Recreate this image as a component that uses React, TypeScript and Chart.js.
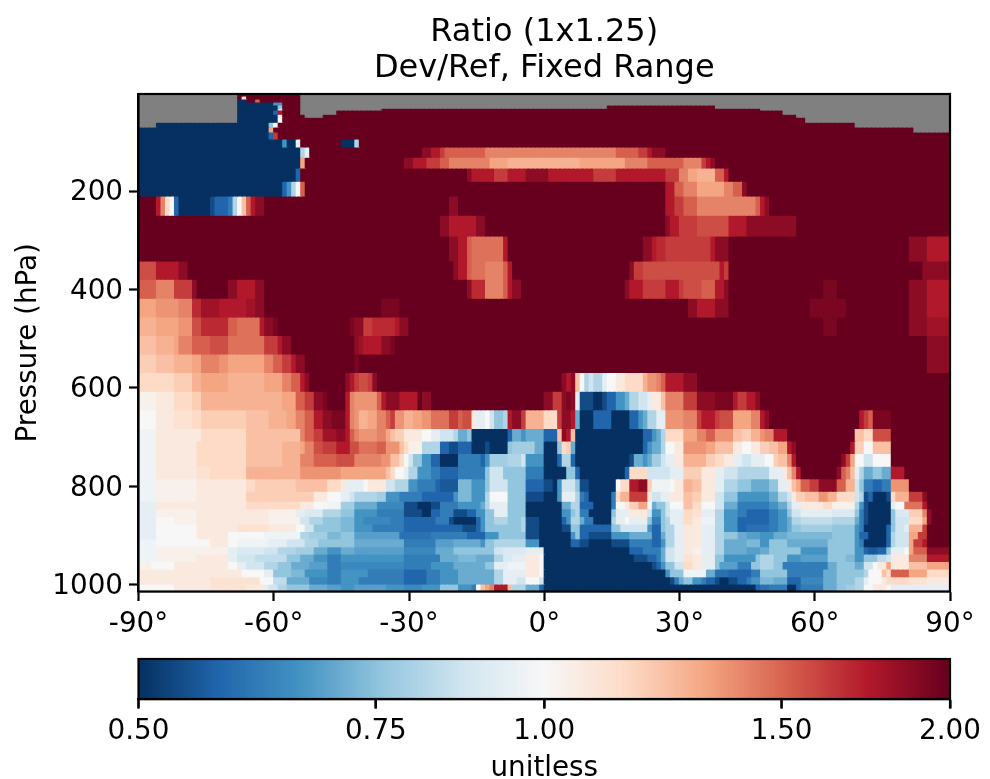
import React, { useEffect, useRef } from "react";
import { Chart, registerables } from "chart.js";

Chart.register(...registerables);

const FONT = "'DejaVu Sans'";

const titleLines = ["Ratio (1x1.25)", "Dev/Ref, Fixed Range"];
const yAxisTitle = "Pressure (hPa)";
const colorbarTitle = "unitless";
const latitudeTicks = [-90, -60, -30, 0, 30, 60, 90];
const pressureTicks = [200, 400, 600, 800, 1000];
const colorbarTicks = [0.5, 0.75, 1, 1.5, 2];

// 47 model levels, top to bottom (hPa)
const pressureEdges = [
  3, 7, 13, 19, 25, 31.5, 35.5, 44, 50, 60, 70, 80, 94.4, 110.6, 131, 153, 180, 210, 249, 291, 342, 379, 417.5, 455.5,
  493, 531, 568.5, 606.5, 644, 682, 707.5, 733, 758.5, 784, 809.5, 830, 845, 860.5, 876, 891, 906, 922, 937, 952, 967.5,
  983, 998, 1013.25,
];

// Ratio steps. Letters in the rows index this: A=0, a=1, B=2, b=3 ... U=40. "." is missing data.
const ratioSteps = [
  0.5, 0.518, 0.536, 0.555, 0.574, 0.595, 0.616, 0.637, 0.66, 0.683, 0.707, 0.732, 0.758, 0.785, 0.812, 0.841, 0.871,
  0.901, 0.933, 0.966, 1.0, 1.035, 1.072, 1.11, 1.149, 1.189, 1.231, 1.275, 1.32, 1.366, 1.414, 1.464, 1.516, 1.569,
  1.625, 1.682, 1.741, 1.803, 1.866, 1.932, 2.0,
];

// Each row: runs of <degrees of latitude><ratio step>, from 90S to 90N.
const stratosphereRows = [
  "22.14U144.",
  "22.1U1M12U144.",
  "22.2A2U1Q9U144.",
  "22.8A2E4U144.",
  "22.9A1G4U68.24U52.",
  "22.9A1I4U18.84U42.",
  "22.8A1C1S4U8.99U37.",
  "22.9A1K5U4.105U34.",
  "22.9A1K116U32.",
  "4.25A1G1K128U21.",
  "29A1O142U8.",
  "29A1C1R149U",
  "32A1E2A1J9U3A1H131U",
  "36A1H1J25U2T2S1R9Q29P5Q2R1S2T1T63U",
  "36A1O22U2T3S3R2Q5P4P4O16n10O5P8Q4P1R1S1T52U",
  "35A1C37U1T5S3R4S5T10S5R7S4S3R2P2O4n2Q1S49U",
  "32A1C1E1H1K1Q80U2S2Q3P6O2P2Q1T45U",
];

const upperTroposphereRows = [
  "4U1S1P1M1K1C7A1B3C1D1H1K1N1Q1S2T41U2T46U2S2R3Q13P1Q1S1T40U",
  "67U2T6S2T40U1T2S4R7q4S11T34U",
  "69U2T2S1Q7p1S30U2T1S2r10R1S3T40U4T5S",
  "4q5S2T59U1T2S1Q3p4P1Q1S26U1T2R17q1S1R43U1T5T",
  "4Q4P4R1T7U2T2S2S2T45U1T3r4P1Q1S2T23U1T3S5R3S1R4q3Q2S1T21U3t16U4T5S",
  "4O5o3P2r4s6S2s2T26U4t64U2T4S3T18U8t14U4T5S",
  "4n5O3o2q6r2Q5p1S2T1t16U1t2T2R5r1S2T92U3t16U4T5s",
  "4N4n1O3P4Q4q8p1R2R1S2T14U1T1s4S2T1t118U5T",
  "4m4N4n2O4P2o8O2P2Q2R1S2T11U1t126U5T",
  "8M4m2n6O8n4O2P2Q1S1T8U1T1S1R2q1R1T41U1T1S1T1N1K1H1I2H1J2K2L2M2M1n2o1P1Q1S3S3T56U",
  "4k4L4M2m6n4n8n3O2Q2R2T1t4U1S1P5o1Q1S3T3S1S1U2T25U2T2R1T1t1T1J3B2A1B2C2E1F2H2I1J2L1N4P3R1T3T4t1S2R2S1T42U",
  "4K4L4l2M10m5N4n2O2P2Q2S1T1T3t1S1P1o2n2O2P1Q1R2o2n2O2o4p2R1Q2q1L2J1K1I2G1H1S2T1R4n3M1R2T1S1F3A4C4A2C1E1F2H2J4o3P1R3S1R3q4O2P1S1T20U1S1R1Q4t13U",
];

const midTroposphereRows = [
  "4j10L2M8M12N1P2Q2R3s2T1S1Q1P4o2P1O1N2m4L2K2J3I1H2F1G8A1C2F1E3F1F3C1N1T1S1N15A2C1E1F1H4M3O2P2Q4o2N2m2n1o2P3S15U2N2M4q13U",
  "4j9L3M8M8N4n1O2P2q3R3S2q4p2Q3o1N1M3k4H2C2B3C3A1B4A1G5g2F3A1G1M1m1F15A1C1E2F1H2K2L5o2O4N2L2K2L2m2N2O1S1T12U1S2m2K4N13U",
  "4j9L3M8M8N4n3P5Q4q6P2o2N1M1K1I2G2E2C4A5D1C1E4g3H1I4E3A1C2H1C12A1B2F1E1F2g1I2J2L5n2m2M2L2J2I3J2K1m2N1P1S10U1T1R1O2K2I4K13U",
  "4j9L3l8M12n9o10O1N1M2K1J2H3E2D4C6D1G3I5G4D5A2G1C10A1C4M5I3J2m2m3L2J3I5H2H3J1L1N1P1S8U1T1Q1P1N1J1H2F2G2F3S10U",
  "4j9k11L2M9m7N3M1L4J1K4L2I3H2E4D1C4b3f3E1G4I4G4C2B1A1E3I1G2B6A1K2M2S2T1m4j1K2L2n2N3L2J3H2G1G4F2G2J1L1N1O2Q2R2T2T2Q2n1I1G2D2C2D4o9U",
  "4j9k11L15m3L3K2J1I5H2g3E5D4C3C1E3f3E1H4K4G4B3A1E3J1H1D1C5A1D1M2n4R1L2I2J3L2N2m3L2I3G2E5E2F2H1I1L2m3N2o2n4M1I1H1B1C3A1B1M3n3R1T5U",
];

const lowerTroposphereRows = [
  "4J9L11L12M3L3K3j3g5F6d3B3A2B4D5E1F1H4J4G4A4A2F1H1H3C4A1D2K1L2m2O1K1F2G1I3K2N2M3K2I3F2D5D2E2F1H2J5L2M5k1H1E1B5A1J2K4p1S5U",
  "4J9k16L6k2J4i4H3G5E6D4B2A2C3D3B2C2E2G3J4G4A4A2E1G1H2D5A1G3J4L1I2E1G1I3J2M2l3J2H3E2D5C2D2E1G2I7J5i1G1D1B5A1G3i3m1P1T4U",
  "4J4K5k16L7k2I3H4G3f2E6d3D7C3D1B5A1C1E2G3H3G1H3B5A1C1E2H1F2D4A1H2J1K4J1G2D1G1H3J2M2L3j2H3E2C5C2D2E1F2H7h5H1F1D1B5A1G3I3M1O1T4U",
  "4J9K9L7l6L2K2I6G3f4E7D13C3B1C1E2G6G1H3B5A2B2G2C5C2G6I1E2C1G2H2J4L3J2H3E2C5c2D2E1F2G7g5G1E1D5A1C1G2I1J3n1R5U",
  "4J9K7L8K8j2H4g3f3G10e7c8D4C3E6G3B7A1E1G2C5B4E5F2C1F2H2J4L3J2H3G2F3e3E3F3f7f5G1E2C4A1C1H3I2O2R5U",
  "4j12K4L2K7j4J4I3H5G3G11F7D4e6F1E2G7H3E7A2C2B5A4B5D2C1E2H2J4L3J2H5F3f2E4G3F6F6G1E1D5A1C1H3I1O2R1S5U",
  "4j16k2J6i3I4H4g3F3E3F11e7d4F3G6G2I5i3J1J19A3C4D1F2I2J2L2k3J2H5F3e2F4G3G6E6G2E1C2b2C1G3J1K1O3Q5T",
  "4j9k7L2J4I7h3G3F3E3D14E8D4F4f4F2H2i3J3L1K20A3B2C1D1F2I2J2l2L3J2G5E2E1G3H3G3E6e4G2f2E3G2h1I4L4P5S",
  "3k5K8L4L2K2J4I3H3G4F4e3D6d8d6D5E7F2G3J4j3L1K24A1B1C1E2G2I2M2L3J1G4e2D1D2G3H2G4D6D2F4G2F2I1K2L1O4L4N5O",
  "16L7L5K2J4G3f5E3D6E8D5C3D4E8F2H5J3L1K27A1E3G5j2F3c5C2D3G3G3D5D3F4G2G1H3K1N1M4Q4O5M",
  "16L11l3K3h5F4d3D4E10D5C3D4E8F2H3J2I3K1I28A1B1D1F2G2E1D2C1B2A2B2C1D2E3f3F3C5d3F4G2H1J3K1L5M4l5L",
  "8K8L8l4L1J2I2H5G4F3e3E7e4E4d4E4G3E1D1K1N1O1P3S1N3H3F1C47A1C2c4D2A1C5D3F2G2g2H2K3L1K13J",
];

const dataRows = [...stratosphereRows, ...upperTroposphereRows, ...midTroposphereRows, ...lowerTroposphereRows];

const anchors: [number, number, number][] = [
  [5, 48, 97], [33, 102, 172], [67, 147, 195], [146, 197, 222], [209, 229, 240], [247, 247, 247],
  [253, 219, 199], [244, 165, 130], [214, 96, 77], [178, 24, 43], [103, 0, 31],
];

function ratioColor(value: number | null): string {
  if (value === null) return "#808080";
  const t = Math.min(1, Math.max(0, Math.log(value / 0.5) / Math.log(4))) * 10;
  const i = Math.min(9, Math.floor(t));
  const f = t - i;
  const c = [0, 1, 2].map((k) => Math.round(anchors[i][k] + (anchors[i + 1][k] - anchors[i][k]) * f));
  return `rgb(${c[0]},${c[1]},${c[2]})`;
}

function decodeRow(row: string): (number | null)[] {
  const out: (number | null)[] = [];
  for (const m of row.matchAll(/(\d*)([A-Za-z.])/g)) {
    const n = m[1] ? parseInt(m[1], 10) : 1;
    const ch = m[2];
    let v: number | null = null;
    if (ch !== ".") {
      const upper = ch.toUpperCase();
      const idx = (upper.charCodeAt(0) - 65) * 2 + (ch === upper ? 0 : 1);
      v = ratioSteps[idx];
    }
    for (let i = 0; i < n; i++) out.push(v);
  }
  while (out.length < 180) out.push(out[out.length - 1]);
  return out.slice(0, 180);
}

const LW = 2.2;
const TICK_LEN = 9.5;
const commonTick = { color: "#000", font: { family: FONT, size: 27.8, lineHeight: 1.2 } };
const border = { display: true, color: "#000", width: LW };
const tickGrid = { offset: false, drawOnChartArea: false, drawTicks: true, tickLength: TICK_LEN, tickColor: "#000", tickWidth: LW };

const framePlugin = {
  id: "frame",
  afterDatasetsDraw(chart: any) {
    const { ctx, chartArea: a } = chart;
    ctx.save();
    ctx.strokeStyle = "#000";
    ctx.lineWidth = LW;
    ctx.strokeRect(a.left, a.top, a.right - a.left, a.bottom - a.top);
    ctx.restore();
  },
};

const colorbarTickPlugin = {
  id: "colorbarTicks",
  afterDatasetsDraw(chart: any) {
    const { ctx, chartArea: a } = chart;
    const scale = chart.scales.x;
    ctx.save();
    ctx.fillStyle = "#000";
    scale.ticks.forEach((_: any, i: number) => {
      ctx.fillRect(scale.getPixelForTick(i) - LW / 2, a.bottom, LW, TICK_LEN);
    });
    ctx.restore();
  },
};

function noPad(scale: any) {
  scale.paddingLeft = 0;
  scale.paddingRight = 0;
  scale.paddingTop = 0;
  scale.paddingBottom = 0;
}

export default function App() {
  const mainRef = useRef<HTMLCanvasElement>(null);
  const barRef = useRef<HTMLCanvasElement>(null);

  useEffect(() => {
    const datasets = dataRows.map((row, r) => {
      const values = decodeRow(row);
      return {
        label: `level ${r}`,
        data: values.map((_, c) => ({ x: -89.5 + c, y: [pressureEdges[r], pressureEdges[r + 1]] })),
        backgroundColor: values.map(ratioColor),
        borderWidth: 0,
        inflateAmount: 0.6,
        grouped: false,
        barPercentage: 1,
        categoryPercentage: 1,
      };
    });

    const main = new Chart(mainRef.current as any, {
      type: "bar",
      data: { datasets } as any,
      plugins: [framePlugin],
      options: {
        animation: false,
        responsive: false,
        devicePixelRatio: 1,
        layout: { padding: { left: 0, right: 40, top: 0, bottom: 0 } },
        plugins: {
          legend: { display: false },
          tooltip: { enabled: false },
          title: {
            display: true,
            text: titleLines,
            color: "#000",
            fullSize: false,
            font: { family: FONT, size: 32, weight: "normal", lineHeight: 1.125 },
            padding: { top: 15, bottom: 7 },
          },
        },
        scales: {
          x: {
            type: "linear",
            offset: false,
            min: -90,
            max: 90,
            border,
            grid: tickGrid,
            ticks: { ...commonTick, padding: 7, maxRotation: 0, autoSkip: false, callback: (v: any) => `${v}°` },
            afterBuildTicks: (s: any) => { s.ticks = latitudeTicks.map((value) => ({ value })); },
            afterFit: (s: any) => { s.height = 187.5; noPad(s); },
          },
          y: {
            type: "linear",
            reverse: true,
            min: 3,
            max: 1013.25,
            border,
            grid: tickGrid,
            ticks: { ...commonTick, padding: 6, labelOffset: 2, autoSkip: false, callback: (v: any) => `${v}` },
            title: {
              display: true,
              text: yAxisTitle,
              color: "#000",
              font: { family: FONT, size: 27.8, weight: "normal", lineHeight: 1.2 },
              padding: { top: 12, bottom: 0 },
            },
            afterBuildTicks: (s: any) => { s.ticks = pressureTicks.map((value) => ({ value })); },
            afterFit: (s: any) => { s.width = 138.5; noPad(s); },
          },
        },
      } as any,
    });

    const stops: number[] = [];
    for (let i = 0; i < 256; i++) stops.push(0.5 * Math.pow(4, i / 256));
    // The first dataset is painted last, so the highest stop goes first and each lower one shows at its left.
    const barSets = stops
      .map((a) => ({
        label: `${a}`,
        data: [{ x: [a, 2], y: "c" }],
        backgroundColor: ratioColor(a * Math.pow(4, 0.5 / 256)),
        borderWidth: 0,
        grouped: false,
        barPercentage: 1,
        categoryPercentage: 1,
      }))
      .reverse();

    const bar = new Chart(barRef.current as any, {
      type: "bar",
      data: { labels: ["c"], datasets: barSets } as any,
      plugins: [framePlugin, colorbarTickPlugin],
      options: {
        animation: false,
        responsive: false,
        devicePixelRatio: 1,
        indexAxis: "y",
        layout: { padding: { left: 138.5, right: 40, top: 659, bottom: 0 } },
        plugins: { legend: { display: false }, tooltip: { enabled: false }, title: { display: false } },
        scales: {
          x: {
            type: "logarithmic",
            min: 0.5,
            max: 2,
            border,
            grid: tickGrid,
            ticks: { ...commonTick, padding: 7, maxRotation: 0, autoSkip: false, callback: (v: any) => Number(v).toFixed(2) },
            title: {
              display: true,
              text: colorbarTitle,
              color: "#000",
              font: { family: FONT, size: 27.8, weight: "normal", lineHeight: 0.7 },
              padding: { top: 0, bottom: 0 },
            },
            afterBuildTicks: (s: any) => { s.ticks = colorbarTicks.map((value) => ({ value })); },
            afterFit: (s: any) => { s.height = 80; noPad(s); },
          },
          y: { type: "category", display: false, offset: true, labels: ["c"] },
        },
      } as any,
    });

    return () => {
      main.destroy();
      bar.destroy();
    };
  }, []);

  const style: React.CSSProperties = { position: "absolute", left: 0, top: 0, display: "block" };
  return (
    <div style={{ position: "absolute", left: 0, top: 0, width: 990, height: 779, background: "#fff", overflow: "hidden" }}>
      <canvas ref={mainRef} width={990} height={779} style={style} />
      <canvas ref={barRef} width={990} height={779} style={style} />
    </div>
  );
}
